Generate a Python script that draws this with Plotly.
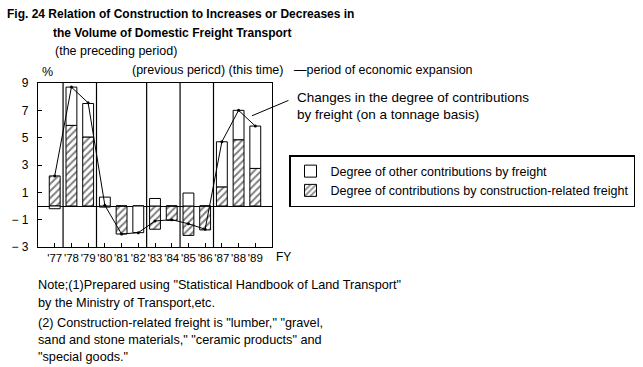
import plotly.graph_objects as go

years = ["'77", "'78", "'79", "'80", "'81", "'82", "'83", "'84", "'85", "'86", "'87", "'88", "'89"]
construction = [2.2, 5.9, 5.05, -0.08, -2.05, 0.0, -1.7, -1.05, -2.15, -1.75, 1.4, 4.85, 2.75]
other = [-0.2, 2.8, 2.45, 0.65, 0.0, -1.95, 0.55, 0.0, 0.95, 0.0, 3.3, 2.15, 3.1]
total_change = [2.2, 8.7, 7.55, 0.05, -2.05, -1.95, -1.1, -1.0, -1.3, -1.7, 4.7, 7.0, 5.85]
period_starts = ["'78", "'80", "'83", "'85", "'87"]
y_ticks = [-3, -1, 1, 3, 5, 7, 9]
y_ticktext = ["\u2212 3", "\u2212 1", "1", "3", "5", "7", "9"]

W, H = 643, 367
L, R, T, B = 38, 272, 83, 247
FONT = "Liberation Sans"


def px(x):
    return (x - L) / (R - L)


def py(y):
    return (B - y) / (B - T)


fig = go.Figure()
fig.add_trace(go.Bar(
    x=years, y=construction, name="Degree of contributions by construction-related freight",
    width=0.65,
    marker=dict(color="white", line=dict(color="black", width=1),
                pattern=dict(shape="/", fgcolor="black", bgcolor="white", size=5, solidity=0.4)),
))
fig.add_trace(go.Bar(
    x=years, y=other, name="Degree of other contributions by freight",
    width=0.65,
    marker=dict(color="white", line=dict(color="black", width=1)),
))
fig.add_trace(go.Scatter(
    x=years, y=total_change, mode="lines+markers", showlegend=False,
    line=dict(color="black", width=1), marker=dict(color="black", size=3),
))

for s in period_starts:
    xi = years.index(s) - 0.5
    fig.add_shape(type="line", xref="x", yref="y domain", x0=xi, x1=xi, y0=0, y1=1,
                  line=dict(color="black", width=1.2))

fig.update_layout(
    width=W, height=H,
    margin=dict(l=L, r=W - R, t=T, b=H - B, pad=0, autoexpand=False),
    paper_bgcolor="white", plot_bgcolor="white",
    barmode="relative", bargap=0.35,
    font=dict(family=FONT, size=12, color="black"),
    showlegend=True,
    legend=dict(x=px(289), y=py(155), xanchor="left", yanchor="top",
                bordercolor="black", borderwidth=1.5, bgcolor="white",
                traceorder="reversed", font=dict(size=12.5), tracegroupgap=0,
                itemwidth=30),
)
fig.update_xaxes(type="category", range=[-1, 13], showline=True, mirror=True,
                 linecolor="black", linewidth=1.2, ticks="inside", ticklen=4,
                 tickcolor="black", showgrid=False, tickfont=dict(size=11.5),
                 tickangle=0, automargin=False)
fig.update_yaxes(range=[-3, 9], tickvals=y_ticks, ticktext=y_ticktext,
                 showline=True, mirror=True, linecolor="black", linewidth=1.2,
                 ticks="inside", ticklen=4, tickcolor="black", showgrid=False,
                 zeroline=True, zerolinecolor="black", zerolinewidth=1.2,
                 tickfont=dict(size=12), automargin=False, ticklabelstandoff=6)

texts = [
    (5, 14, "<b>Fig. 24 Relation of Construction to Increases or Decreases in</b>", 12),
    (51, 33, "<b>the Volume of Domestic Freight Transport</b>", 12),
    (53, 51, "(the preceding period)", 12.5),
    (130, 70, "(previous pericd) (this time)", 12.5),
    (292, 70, "\u2014period of economic expansion", 12.5),
    (40, 72, "%", 12.5),
    (295, 97, "Changes in the degree of contributions", 13.5),
    (295, 114, "by freight (on a tonnage basis)", 13.5),
    (274, 257, "FY", 12),
    (36, 285, "Note;(1)Prepared using \"Statistical Handbook of Land Transport\"", 12.7),
    (36, 303, "by the Ministry of Transport,etc.", 12.7),
    (36, 323, "(2) Construction-related freight is \"lumber,\" \"gravel,", 12.7),
    (36, 340, "sand and stone materials,\" \"ceramic products\" and", 12.7),
    (36, 357, "\"special goods.\"", 12.7),
]
for x, y, t, fs in texts:
    fig.add_annotation(x=px(x), y=py(y), xref="paper", yref="paper", text=t,
                       showarrow=False, xanchor="left", yanchor="middle",
                       font=dict(size=fs, family=FONT))

fig.add_annotation(x=11.8, y=6.6, xref="x", yref="y", text="", showarrow=True,
                   arrowhead=0, arrowwidth=1, arrowcolor="black", ax=38, ay=-16)

fig.write_html("out.html", config={"displayModeBar": False},
               post_script="document.body.style.margin='0';document.body.style.overflow='hidden';")
